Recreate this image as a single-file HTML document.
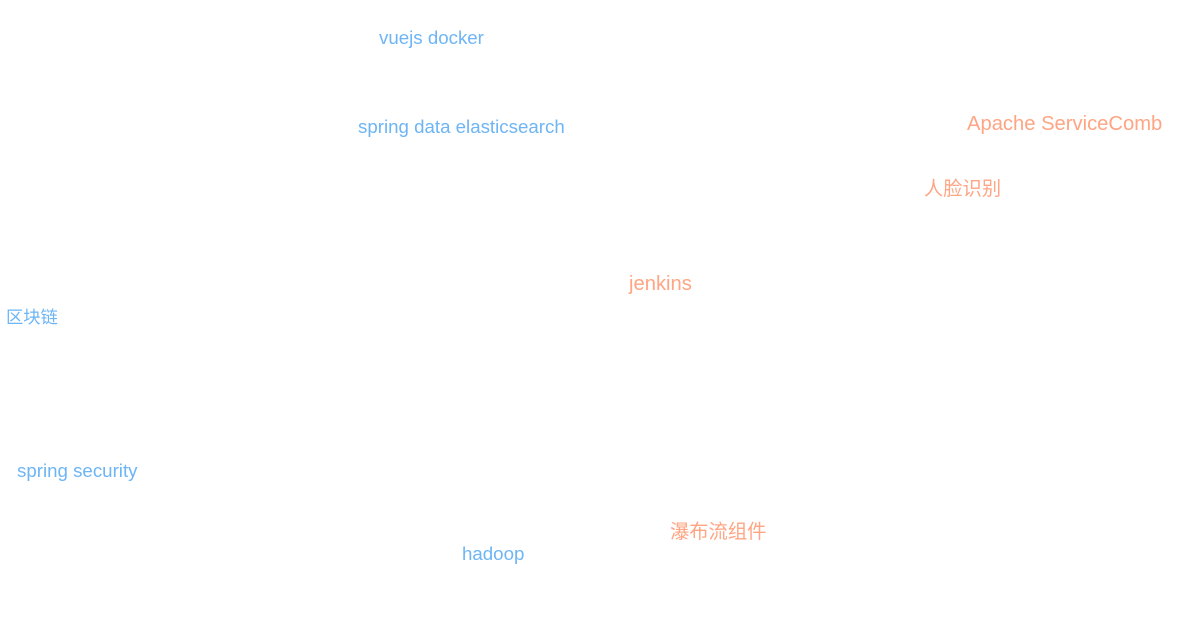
<!DOCTYPE html>
<html><head><meta charset="utf-8"><style>
body{margin:0;width:1178px;height:639px;background:#fff;position:relative;overflow:hidden;font-family:"Liberation Sans","Noto Sans CJK SC",sans-serif}
div{position:absolute;white-space:nowrap;line-height:1}
.b{color:#6db5f5;font-size:18.7px}
.o{color:#ffa583;font-size:20.2px}
.bc{color:#6db5f5;font-size:17.3px}
.oc{color:#ffa583;font-size:19.3px}
</style></head><body>
<div class="b" style="left:379px;top:29px">vuejs docker</div>
<div class="b" style="left:358px;top:118px">spring data elasticsearch</div>
<div class="o" style="left:967px;top:114px">Apache ServiceComb</div>
<div class="oc" style="left:924px;top:180px">人脸识别</div>
<div class="o" style="left:629px;top:274px">jenkins</div>
<div class="bc" style="left:6px;top:309px">区块链</div>
<div class="b" style="left:17px;top:462px">spring security</div>
<div class="oc" style="left:670px;top:523px">瀑布流组件</div>
<div class="b" style="left:462px;top:545px">hadoop</div>
</body></html>
